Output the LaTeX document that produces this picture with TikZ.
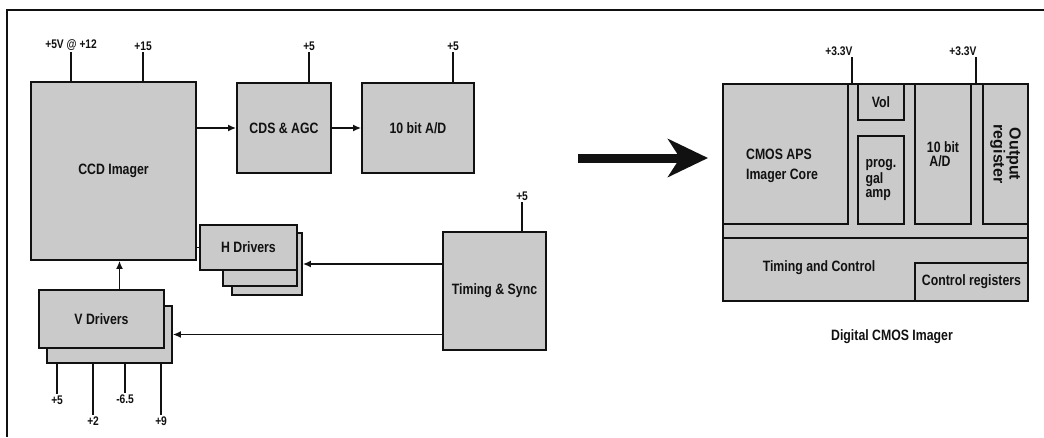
\documentclass[tikz,border=0pt]{standalone}
\usepackage{fontspec}
\setmainfont{Liberation Sans}
\newfontfamily\narrowsf[FakeStretch=0.82]{Liberation Sans}
\usetikzlibrary{arrows.meta, positioning, calc}
\definecolor{inkOne}{HTML}{111111}
\definecolor{boxfill}{HTML}{CACACA}
\newcommand{\boxfont}{\narrowsf\bfseries\fontsize{15}{14}\selectfont}
\newcommand{\supfont}{\narrowsf\bfseries\fontsize{12.5}{13}\selectfont}
\tikzset{
  blk/.style={draw=inkOne, line width=1.8pt, fill=boxfill, inner sep=0pt, align=center, font=\boxfont,
    text=inkOne},
  cell/.style={draw=inkOne, line width=1.5pt, inner sep=0pt, align=center, font=\boxfont, text=inkOne},
  txt/.style={font=\boxfont, text=inkOne, inner sep=0pt},
  sup/.style={font=\supfont, text=inkOne, inner sep=1pt},
  arr/.style={-{Latex[length=8pt, width=7pt]}, draw=inkOne, line width=1.5pt},
  wire/.style={draw=inkOne, line width=1.3pt},
}
\begin{document}
\begin{tikzpicture}[x=1pt, y=-1pt]
  \useasboundingbox (0,0) rectangle (1044,437);
  % \supply{node}{offset from left}{length}{label}
  \newcommand{\supply}[4]{\draw[wire] ([xshift=#2pt]#1.north west) -- ++(0,-#3) node[sup, above] {#4};}
  \draw[draw=inkOne, line width=2pt] (7,437) -- (7,10) -- (1044,10);
  % ---- CCD camera: imager, signal chain, timing
  \node[blk, minimum width=165pt, minimum height=178pt] (ccd) at (113.5,171) {CCD Imager};
  \node[blk, minimum width=94pt, minimum height=90pt] (cds) at (284,128) {CDS \& AGC};
  \node[blk, minimum width=112pt, minimum height=90pt] (adc) at (418,128) {10 bit A/D};
  \node[blk, minimum width=103pt, minimum height=118pt] (tsync) at (494.5,291) {Timing \& Sync};
  % driver stacks, back copies first
  \node[blk, minimum width=70pt, minimum height=62pt] (hback) at (267,264) {};
  \node[blk, minimum width=74pt, minimum height=46pt] (hmid) at (260,263) {};
  \node[blk, minimum width=97pt, minimum height=45pt] (hdrv) at (248.5,247.5) {H Drivers};
  \node[blk, minimum width=125pt, minimum height=57pt] (vback) at (109.5,334.5) {};
  \node[blk, minimum width=125pt, minimum height=58pt] (vdrv) at (101.5,319) {V Drivers};
  \draw[arr, line width=2pt] (ccd.east |- cds.west) -- (cds.west);
  \draw[arr] (cds.east) -- (adc.west);
  \draw[wire] (ccd.east |- hdrv.west) -- (hdrv.west);
  \draw[arr] (tsync.west |- hback.east) -- (hback.east);
  \draw[arr] (tsync.west |- vback.east) -- (vback.east);
  \draw[arr] ([xshift=18pt]vdrv.north) -- ([xshift=18pt]vdrv.north |- ccd.south);
  \supply{ccd}{41}{29}{+5V @ +12}
  \supply{ccd}{113}{29}{+15}
  \supply{cds}{73}{30}{+5}
  \supply{adc}{92}{30}{+5}
  \supply{tsync}{80}{29}{+5}
  \foreach \dx/\len/\lab in {11/30/+5, 47/51/+2, 79/29/-6.5, 115/51/+9} {
    \draw[wire] ([xshift=\dx pt]vback.south west) -- ++(0,\len) node[sup, below] {\lab};
  }
  % ---- big arrow
  \coordinate (bigtail) at (578,158);
  \coordinate (bighead) at (708,158);
  \draw[draw=inkOne, line width=9pt, -{Stealth[length=40pt, width=38pt, inset=12pt]}] (bigtail) -- (bighead);
  % ---- digital CMOS imager
  \node[blk, minimum width=305pt, minimum height=217pt] (cmos) at (875.5,192.5) {};
  \node[cell, minimum width=125pt, minimum height=140pt] (core) at (785.5,154) {};
  \node[txt, align=left] (coretxt) at (782,166) {CMOS APS\\[6pt]Imager Core};
  \node[cell, minimum width=46pt, minimum height=36pt] (vol) at (881,102) {Vol};
  \node[cell, minimum width=46pt, minimum height=88pt, align=left] (amp) at (881,180) {prog.\\gal\\amp};
  \node[cell, minimum width=56pt, minimum height=140pt, align=left] (adcm) at (943,154) {10 bit\\\,A/D};
  \node[cell, minimum width=140pt, minimum height=45pt, rotate=-90,
    font=\bfseries\fontsize{16}{13}\selectfont] (outreg) at (1005.5,154) {Output\\register};
  \node[cell, minimum width=305pt, minimum height=63pt] (tctl) at (875.5,269.5) {};
  \node[cell, minimum width=113pt, minimum height=38pt] (ctrlreg) at (971.5,282) {Control registers};
  \node[txt] (tctltxt) at (819,268) {Timing and Control};
  \draw[wire] ([xshift=130pt]cmos.north west) -- ++(0,-26) node[sup, anchor=south east, xshift=2pt] {+3.3V};
  \draw[wire] ([xshift=254pt]cmos.north west) -- ++(0,-26) node[sup, anchor=south east, xshift=2pt] {+3.3V};
  \node[txt] (cmoscap) at (892,337) {Digital CMOS Imager};
\end{tikzpicture}
\end{document}
